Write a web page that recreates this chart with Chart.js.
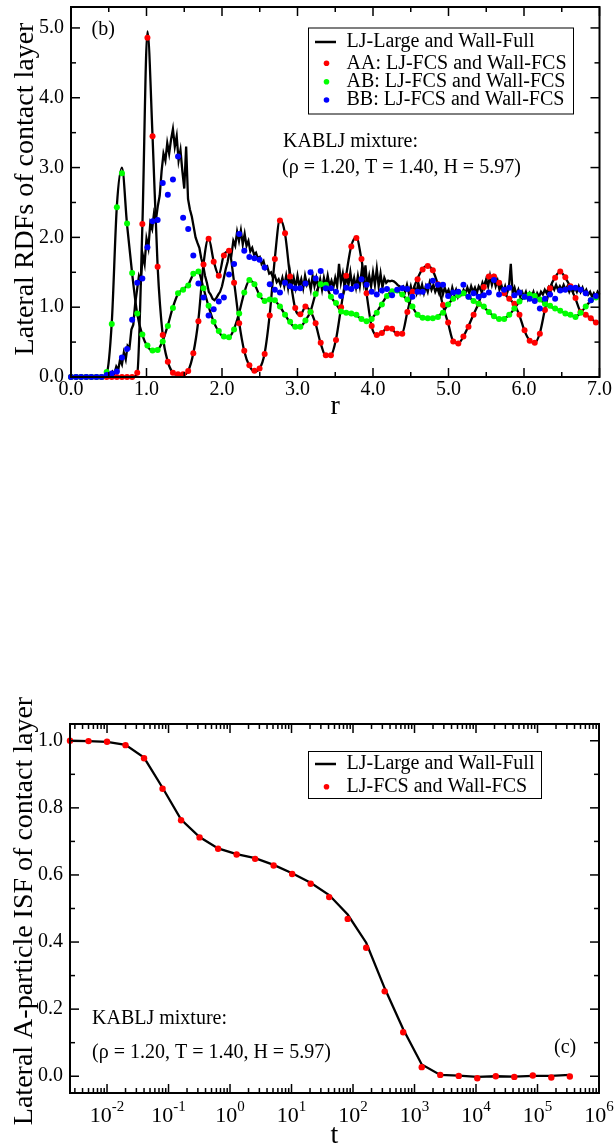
<!DOCTYPE html>
<html><head><meta charset="utf-8">
<script src="https://cdn.jsdelivr.net/npm/chart.js@4.4.1/dist/chart.umd.min.js"></script>
<style>
html,body{margin:0;padding:0;background:#fff;}
#w1{position:absolute;left:0;top:0;width:614px;height:430px;}
#w2{position:absolute;left:0;top:680px;width:614px;height:464px;}
</style></head><body>
<div id="w1"><canvas id="c1"></canvas></div>
<div id="w2"><canvas id="c2"></canvas></div>
<script>
// ---------------- Panel (b): lateral RDFs ----------------
const rDots = [
0,0.0675,0.135,0.2025,0.27,0.3375,0.405,0.4725,0.54,0.6075,
0.675,0.7425,0.81,0.8775,0.945,1.0125,1.08,1.1475,1.215,1.2825,
1.35,1.4175,1.485,1.5525,1.62,1.6875,1.755,1.8225,1.89,1.9575,
2.025,2.0925,2.16,2.2275,2.295,2.3625,2.43,2.4975,2.565,2.6325,
2.7,2.7675,2.835,2.9025,2.97,3.0375,3.105,3.1725,3.24,3.3075,
3.375,3.4425,3.51,3.5775,3.645,3.7125,3.78,3.8475,3.915,3.9825,
4.05,4.1175,4.185,4.2525,4.32,4.3875,4.455,4.5225,4.59,4.6575,
4.725,4.7925,4.86,4.9275,4.995,5.0625,5.13,5.1975,5.265,5.3325,
5.4,5.4675,5.535,5.6025,5.67,5.7375,5.805,5.8725,5.94,6.0075,
6.075,6.1425,6.21,6.2775,6.345,6.4125,6.48,6.5475,6.615,6.6825,
6.75,6.8175,6.885,6.9525];
const aaDots = [
0,0,0,0,0,0,0,0,0,0,
0,0,0,0.06,2.19,4.86,3.45,1.58,0.60,0.22,
0.06,0.04,0.04,0.085,0.34,0.80,1.61,1.98,1.65,1.45,
1.74,1.81,1.35,0.77,0.375,0.17,0.09,0.12,0.33,0.88,
1.69,2.24,2.06,1.44,0.99,0.90,1.01,0.93,0.77,0.49,
0.31,0.31,0.53,1.00,1.45,1.87,1.99,1.69,1.20,0.73,
0.60,0.63,0.70,0.69,0.62,0.62,0.93,1.22,1.40,1.54,
1.59,1.53,1.33,1.03,0.78,0.51,0.48,0.58,0.72,0.89,
1.05,1.29,1.44,1.44,1.35,1.20,1.12,1.05,0.89,0.67,
0.52,0.49,0.62,0.96,1.27,1.42,1.51,1.43,1.30,1.13,
0.93,0.89,0.84,0.78];
const abDots = [
0,0,0,0,0,0,0,0.07,0.76,2.43,
2.92,2.20,1.49,0.91,0.61,0.45,0.38,0.385,0.51,0.73,
0.99,1.20,1.25,1.31,1.48,1.51,1.27,1.02,0.79,0.66,
0.58,0.57,0.68,0.91,1.21,1.39,1.33,1.17,1.09,1.11,
1.10,1.01,0.89,0.79,0.72,0.72,0.81,0.93,1.19,1.33,
1.32,1.15,1.06,0.94,0.92,0.91,0.89,0.83,0.80,0.83,
0.92,1.04,1.16,1.23,1.24,1.18,1.11,1.01,0.89,0.85,
0.84,0.84,0.86,0.92,1.04,1.12,1.17,1.20,1.15,1.09,
1.05,1.01,0.93,0.87,0.83,0.83,0.89,0.98,1.08,1.15,
1.18,1.16,1.11,1.05,1.02,0.98,0.95,0.91,0.89,0.86,
0.92,1.01,1.10,1.14];
const bbDots = [
0,0,0,0,0,0,0,0.03,0.05,0.08,
0.28,0.40,0.82,1.35,1.41,1.86,2.23,2.25,2.78,2.61,
2.83,3.16,2.28,2.12,1.74,1.34,1.14,0.88,0.97,1.08,
1.14,1.47,1.62,2.05,1.81,1.72,1.70,1.68,1.57,1.33,
1.25,1.21,1.35,1.30,1.27,1.27,1.34,1.50,1.41,1.52,
1.27,1.27,1.22,1.16,1.28,1.26,1.30,1.40,1.32,1.22,
1.18,1.24,1.26,1.17,1.25,1.27,1.26,1.15,1.22,1.22,
1.30,1.38,1.32,1.32,1.16,1.21,1.22,1.32,1.15,1.20,
1.15,1.17,1.21,1.39,1.18,1.25,1.28,1.17,1.21,1.15,
1.12,1.09,0.98,1.12,1.18,1.12,1.24,1.25,1.28,1.28,
1.25,1.20,1.10,1.16];
// LJ-Large and Wall-Full reference curves
const aaLine = [
0,0,0,0,0,0,0,0,0,0,
0,0,0,0.05,2.15,4.95,3.45,1.58,0.60,0.22,
0.06,0.03,0.03,0.09,0.34,0.82,1.62,1.99,1.66,1.46,
1.75,1.80,1.36,0.78,0.37,0.16,0.08,0.12,0.34,0.90,
1.70,2.26,2.05,1.43,0.98,0.89,1.00,0.94,0.76,0.48,
0.30,0.31,0.54,1.00,1.46,1.88,2.00,1.68,1.19,0.72,
0.60,0.63,0.70,0.68,0.62,0.63,0.93,1.22,1.41,1.55,
1.59,1.52,1.32,1.02,0.77,0.51,0.48,0.58,0.73,0.90,
1.06,1.30,1.45,1.44,1.34,1.20,1.12,1.04,0.88,0.66,
0.52,0.49,0.63,0.97,1.28,1.43,1.51,1.42,1.29,1.12,
0.93,0.89,0.84,0.78];
const abLine = [
0,0,0,0,0,0,0,0.05,0.78,2.45,
3.00,2.18,1.48,0.90,0.60,0.44,0.38,0.39,0.52,0.74,
1.00,1.19,1.26,1.32,1.47,1.50,1.27,1.01,0.79,0.65,
0.57,0.57,0.69,0.92,1.21,1.38,1.33,1.17,1.10,1.11,
1.09,1.01,0.89,0.78,0.71,0.72,0.81,0.94,1.19,1.33,
1.31,1.15,1.05,0.94,0.92,0.90,0.88,0.83,0.80,0.84,
0.93,1.05,1.16,1.23,1.23,1.18,1.10,1.00,0.89,0.85,
0.84,0.84,0.87,0.93,1.04,1.12,1.17,1.19,1.15,1.09,
1.05,1.00,0.93,0.87,0.83,0.84,0.89,0.98,1.08,1.15,
1.18,1.16,1.11,1.05,1.01,0.98,0.95,0.91,0.88,0.87,
0.92,1.01,1.09,1.14];
const rLine = [
0,0.025,0.05,0.075,0.1,0.125,0.15,0.175,0.2,0.225,
0.25,0.275,0.3,0.325,0.35,0.375,0.4,0.425,0.45,0.475,
0.5,0.525,0.55,0.575,0.6,0.625,0.65,0.675,0.7,0.725,
0.75,0.775,0.8,0.825,0.85,0.875,0.9,0.925,0.95,0.975,
1,1.025,1.05,1.075,1.1,1.125,1.15,1.175,1.2,1.225,
1.25,1.275,1.3,1.325,1.35,1.375,1.4,1.425,1.45,1.475,
1.5,1.525,1.55,1.575,1.6,1.625,1.65,1.675,1.7,1.725,
1.75,1.775,1.8,1.825,1.85,1.875,1.9,1.925,1.95,1.975,
2,2.025,2.05,2.075,2.1,2.125,2.15,2.175,2.2,2.225,
2.25,2.275,2.3,2.325,2.35,2.375,2.4,2.425,2.45,2.475,
2.5,2.525,2.55,2.575,2.6,2.625,2.65,2.675,2.7,2.725,
2.75,2.775,2.8,2.825,2.85,2.875,2.9,2.925,2.95,2.975,
3,3.025,3.05,3.075,3.1,3.125,3.15,3.175,3.2,3.225,
3.25,3.275,3.3,3.325,3.35,3.375,3.4,3.425,3.45,3.475,
3.5,3.525,3.55,3.575,3.6,3.625,3.65,3.675,3.7,3.725,
3.75,3.775,3.8,3.825,3.85,3.875,3.9,3.925,3.95,3.975,
4,4.025,4.05,4.075,4.1,4.125,4.15,4.175,4.2,4.225,
4.25,4.275,4.3,4.325,4.35,4.375,4.4,4.425,4.45,4.475,
4.5,4.525,4.55,4.575,4.6,4.625,4.65,4.675,4.7,4.725,
4.75,4.775,4.8,4.825,4.85,4.875,4.9,4.925,4.95,4.975,
5,5.025,5.05,5.075,5.1,5.125,5.15,5.175,5.2,5.225,
5.25,5.275,5.3,5.325,5.35,5.375,5.4,5.425,5.45,5.475,
5.5,5.525,5.55,5.575,5.6,5.625,5.65,5.675,5.7,5.725,
5.75,5.775,5.8,5.825,5.85,5.875,5.9,5.925,5.95,5.975,
6,6.025,6.05,6.075,6.1,6.125,6.15,6.175,6.2,6.225,
6.25,6.275,6.3,6.325,6.35,6.375,6.4,6.425,6.45,6.475,
6.5,6.525,6.55,6.575,6.6,6.625,6.65,6.675,6.7,6.725,
6.75,6.775,6.8,6.825,6.85,6.875,6.9,6.925,6.95,6.975,
7];
const bbLine = [
0,0,0,0,0,0,0,0,0,0,
0,0,0,0,0,0,0,0,0,0,
0,0.03,0.08,0.05,0.15,0.10,0.25,0.18,0.35,0.25,
0.45,0.42,0.68,0.75,1.05,1.25,1.45,1.38,1.75,1.62,
1.98,1.85,2.2,2.12,2.35,2.25,2.45,2.6,2.95,3.2,
3.1,3.35,3.2,3.4,3.55,3.3,3.45,3.1,3.25,2.95,
2.7,3.3,2.55,2.4,2.3,2.15,2.0,1.92,1.85,1.7,
1.6,1.45,1.35,1.22,1.18,1.12,1.1,1.13,1.18,1.22,
1.3,1.42,1.55,1.65,1.8,1.75,1.95,1.88,2.08,1.95,
2.1,1.9,2.05,1.88,1.95,1.8,1.85,1.75,1.78,1.7,
1.72,1.62,1.66,1.55,1.58,1.48,1.5,1.42,1.45,1.36,
1.4,1.32,1.42,1.3,1.45,1.28,1.5,1.3,1.42,1.28,
1.45,1.3,1.4,1.27,1.45,1.32,1.38,1.25,1.45,1.3,
1.42,1.28,1.4,1.25,1.42,1.3,1.45,1.3,1.38,1.28,
1.42,1.3,1.62,1.35,1.48,1.28,1.45,1.32,1.5,1.3,
1.42,1.28,1.45,1.3,1.52,1.35,1.6,1.3,1.45,1.3,
1.5,1.32,1.55,1.3,1.48,1.28,1.42,1.35,1.38,1.37,
1.38,1.37,1.35,1.32,1.3,1.28,1.3,1.22,1.32,1.2,
1.3,1.18,1.28,1.2,1.35,1.22,1.32,1.2,1.3,1.22,
1.35,1.25,1.32,1.22,1.28,1.2,1.3,1.18,1.28,1.2,
1.25,1.15,1.28,1.18,1.25,1.15,1.22,1.18,1.25,1.2,
1.28,1.2,1.3,1.22,1.28,1.2,1.3,1.25,1.35,1.28,
1.4,1.3,1.45,1.32,1.42,1.3,1.38,1.25,1.32,1.22,
1.3,1.2,1.28,1.62,1.2,1.28,1.18,1.25,1.15,1.22,
1.15,1.22,1.12,1.2,1.15,1.22,1.12,1.2,1.15,1.22,
1.18,1.25,1.2,1.28,1.22,1.3,1.25,1.32,1.25,1.3,
1.25,1.32,1.25,1.3,1.22,1.28,1.22,1.28,1.22,1.3,
1.22,1.28,1.2,1.25,1.18,1.22,1.15,1.2,1.15,1.22,
1.18];
const rTicks = [0,1,2,3,4,5,6,7];
const rMinor = [0.5,1.5,2.5,3.5,4.5,5.5,6.5];
const gTicks = [0,1,2,3,4,5];
const gMinor = [0.5,1.5,2.5,3.5,4.5];

// ---------------- Panel (c): lateral A-particle ISF ----------------
const tVals = [0.0025,0.005,0.01,0.02,0.04,0.08,0.16,0.32,0.64,1.28,
2.56,5.12,10.24,20.48,40.96,81.92,163.84,327.68,655.36,1310.72,
2621.44,5242.88,10485.76,20971.52,41943.04,83886.08,167772.16,335544.32];
const isfDots = [1.000,0.999,0.997,0.987,0.948,0.857,0.763,0.712,0.678,0.661,
0.648,0.628,0.603,0.574,0.534,0.469,0.383,0.253,0.131,0.027,
0.004,0.001,-0.006,0.000,-0.002,0.002,-0.004,-0.001];
const isfLine = [1.000,0.999,0.997,0.988,0.950,0.860,0.765,0.713,0.679,0.662,
0.650,0.630,0.605,0.577,0.540,0.482,0.398,0.262,0.140,0.035,
0.004,0.002,-0.002,0.000,-0.001,0.001,0.001,0.004];
const tExps = [-2,-1,0,1,2,3,4,5,6];
const fTicks = [0,0.2,0.4,0.6,0.8,1.0];
const fMinor = [0.1,0.3,0.5,0.7,0.9];

const FONT = '"Liberation Serif","Times New Roman",serif';
const RED = '#ff0000', GREEN = '#00ff00', BLUE = '#0000ff';

function pts(xs, ys){ return xs.map((x,i)=>({x:x, y:ys[i]})).filter(p=>p.y!==undefined); }

function makeDecor(cfg){
  return { id:'decor_'+cfg.name, afterDraw(chart){
    const ctx = chart.ctx, ca = chart.chartArea, xs = chart.scales.x, ys = chart.scales.y;
    ctx.save();
    ctx.strokeStyle = '#000'; ctx.lineWidth = 1.5;
    const seg = (a,b,c,d)=>{ ctx.beginPath(); ctx.moveTo(a,b); ctx.lineTo(c,d); ctx.stroke(); };
    const xt = (vals,len)=>vals.forEach(v=>{ const x = xs.getPixelForValue(v); seg(x,ca.bottom,x,ca.bottom-len); seg(x,ca.top,x,ca.top+len); });
    const yt = (vals,len)=>vals.forEach(v=>{ const y = ys.getPixelForValue(v); seg(ca.left,y,ca.left+len,y); seg(ca.right,y,ca.right-len,y); });
    xt(cfg.xMajor,9); xt(cfg.xMinor,5); yt(cfg.yMajor,9); yt(cfg.yMinor,5);
    ctx.lineWidth = 2;
    ctx.strokeRect(ca.left, ca.top, ca.right-ca.left, ca.bottom-ca.top);
    ctx.fillStyle = '#000';
    // y title
    ctx.save();
    ctx.translate(cfg.yTitle.x, cfg.yTitle.y); ctx.rotate(-Math.PI/2);
    ctx.font = '28px '+FONT; ctx.textAlign = 'center'; ctx.textBaseline = 'alphabetic';
    ctx.fillText(cfg.yTitle.text, 0, 0);
    ctx.restore();
    // x title
    ctx.font = '28px '+FONT; ctx.textAlign = 'center'; ctx.textBaseline = 'alphabetic';
    ctx.fillText(cfg.xTitle.text, (ca.left+ca.right)/2, cfg.xTitle.y);
    // notes
    ctx.textAlign = 'left'; ctx.textBaseline = 'middle'; ctx.font = '20px '+FONT;
    cfg.notes.forEach(n=>ctx.fillText(n.text, n.x, n.y));
    // legend
    const L = cfg.legend;
    ctx.lineWidth = 1; ctx.strokeStyle = '#000';
    ctx.strokeRect(L.x+0.5, L.y+0.5, L.w, L.h);
    L.items.forEach((di,i)=>{
      const ds = chart.data.datasets[di], y = L.rows[i];
      if (ds.showLine) { ctx.lineWidth = 2.5; ctx.strokeStyle = ds.borderColor; seg(L.x+7,y,L.x+28,y); }
      else { ctx.fillStyle = ds.pointBackgroundColor; ctx.beginPath(); ctx.arc(L.x+18.5,y,2.8,0,2*Math.PI); ctx.fill(); }
      ctx.fillStyle = '#000'; ctx.font = '20px '+FONT; ctx.textBaseline = 'middle';
      ctx.fillText(ds.label, L.x+38.5, y);
    });
    // log axis labels 10^n
    if (cfg.logExps) {
      cfg.logExps.forEach(n=>{
        const x = xs.getPixelForValue(Math.pow(10,n));
        ctx.font = '22px '+FONT; const w1 = ctx.measureText('10').width;
        ctx.font = '15px '+FONT; const es = String(n); const w2 = ctx.measureText(es).width;
        const x0 = x - (w1+w2)/2;
        ctx.textAlign = 'left'; ctx.textBaseline = 'alphabetic';
        ctx.font = '22px '+FONT; ctx.fillText('10', x0, cfg.logBase);
        ctx.font = '15px '+FONT; ctx.fillText(es, x0+w1, cfg.logExpBase);
      });
    }
    ctx.restore();
  }};
}

function zeroPad(s){ s.paddingLeft=0; s.paddingRight=0; s.paddingTop=0; s.paddingBottom=0; }

// ---- chart (b)
const dotCommon = { showLine:false, pointRadius:3, pointBorderWidth:0, clip:false };
const lineCommon = { showLine:true, pointRadius:0, borderColor:'#000', borderWidth:2.3, cubicInterpolationMode:'monotone', clip:false };
const chartB = new Chart(document.getElementById('c1'), {
  type:'scatter',
  data:{ datasets:[
    Object.assign({label:'LJ-Large and Wall-Full', data:pts(rDots,aaLine), order:6}, lineCommon),
    Object.assign({label:'AA: LJ-FCS and Wall-FCS', data:pts(rDots,aaDots), pointBackgroundColor:RED, pointBorderColor:RED, order:3}, dotCommon),
    Object.assign({label:'AB: LJ-FCS and Wall-FCS', data:pts(rDots,abDots), pointBackgroundColor:GREEN, pointBorderColor:GREEN, order:2}, dotCommon),
    Object.assign({label:'BB: LJ-FCS and Wall-FCS', data:pts(rDots,bbDots), pointBackgroundColor:BLUE, pointBorderColor:BLUE, order:1}, dotCommon),
    Object.assign({label:'LJ-Large and Wall-Full', data:pts(rDots,abLine), order:5}, lineCommon),
    Object.assign({label:'LJ-Large and Wall-Full', data:pts(rLine,bbLine), order:4}, lineCommon, {cubicInterpolationMode:'default', tension:0})
  ]},
  options:{
    responsive:true, maintainAspectRatio:false, animation:false, events:[],
    layout:{ padding:{ left:0, right:14.5, top:7, bottom:0 } },
    plugins:{ legend:{display:false}, tooltip:{enabled:false} },
    scales:{
      x:{ type:'linear', min:0, max:7,
        afterBuildTicks:s=>{ s.ticks = rTicks.map(v=>({value:v})); },
        afterFit:s=>{ s.height = 53; zeroPad(s); },
        grid:{display:false, drawTicks:false}, border:{display:false},
        ticks:{ padding:1, color:'#000', font:{family:FONT,size:20}, maxRotation:0, autoSkip:false, callback:v=>Number(v).toFixed(1) } },
      y:{ type:'linear', min:0, max:5.3,
        afterBuildTicks:s=>{ s.ticks = gTicks.map(v=>({value:v})); },
        afterFit:s=>{ s.width = 71; zeroPad(s); },
        grid:{display:false, drawTicks:false}, border:{display:false},
        ticks:{ padding:7, color:'#000', font:{family:FONT,size:20}, autoSkip:false, callback:v=>Number(v).toFixed(1) } }
    }
  },
  plugins:[ makeDecor({ name:'b', xMajor:rTicks, xMinor:rMinor, yMajor:gTicks, yMinor:gMinor,
    yTitle:{ text:'Lateral RDFs of contact layer', x:33, y:189 },
    xTitle:{ text:'r', y:414 },
    notes:[ {text:'(b)', x:91.5, y:30}, {text:'KABLJ mixture:', x:283, y:142}, {text:'(\u03c1 = 1.20, T = 1.40, H = 5.97)', x:282, y:168} ],
    legend:{ x:308, y:27.5, w:265, h:86, rows:[42,63.3,81.7,100], items:[0,1,2,3] }
  }) ]
});

// ---- chart (c)
const chartC = new Chart(document.getElementById('c2'), {
  type:'scatter',
  data:{ datasets:[
    { label:'LJ-Large and Wall-Full', data:pts(tVals,isfLine), showLine:true, pointRadius:0, borderColor:'#000', borderWidth:2.3, tension:0, order:2, clip:false },
    { label:'LJ-FCS and Wall-FCS', data:pts(tVals,isfDots), showLine:false, pointRadius:3.2, pointBorderWidth:0, pointBackgroundColor:RED, pointBorderColor:RED, order:1, clip:false }
  ]},
  options:{
    responsive:true, maintainAspectRatio:false, animation:false, events:[],
    layout:{ padding:{ left:0, right:15, top:44, bottom:0 } },
    plugins:{ legend:{display:false}, tooltip:{enabled:false} },
    scales:{
      x:{ type:'logarithmic', min:0.0025, max:1e6,
        afterBuildTicks:s=>{ s.ticks = tExps.map(n=>({value:Math.pow(10,n)})); },
        afterFit:s=>{ s.height = 51; zeroPad(s); },
        grid:{display:false, drawTicks:false}, border:{display:false},
        ticks:{ display:false } },
      y:{ type:'linear', min:-0.05, max:1.05,
        afterBuildTicks:s=>{ s.ticks = fTicks.map(v=>({value:v})); },
        afterFit:s=>{ s.width = 70; zeroPad(s); },
        grid:{display:false, drawTicks:false}, border:{display:false},
        ticks:{ padding:7, color:'#000', font:{family:FONT,size:20}, autoSkip:false, callback:v=>Number(v).toFixed(1) } }
    }
  },
  plugins:[ makeDecor({ name:'c',
    xMajor:tExps.map(n=>Math.pow(10,n)),
    xMinor:[-3,-2,-1,0,1,2,3,4,5].flatMap(n=>[2,3,4,5,6,7,8,9].map(m=>m*Math.pow(10,n))).filter(v=>v>=0.0025&&v<=1e6),
    yMajor:fTicks, yMinor:fMinor,
    yTitle:{ text:'Lateral A-particle ISF of contact layer', x:32, y:231 },
    xTitle:{ text:'t', y:463 },
    notes:[ {text:'KABLJ mixture:', x:92, y:339}, {text:'(\u03c1 = 1.20, T = 1.40, H = 5.97)', x:92, y:372.5}, {text:'(c)', x:554, y:368} ],
    legend:{ x:308, y:71, w:233, h:47, rows:[84,106.7], items:[0,1] },
    logExps:tExps, logBase:442, logExpBase:431
  }) ]
});
</script>
</body></html>
